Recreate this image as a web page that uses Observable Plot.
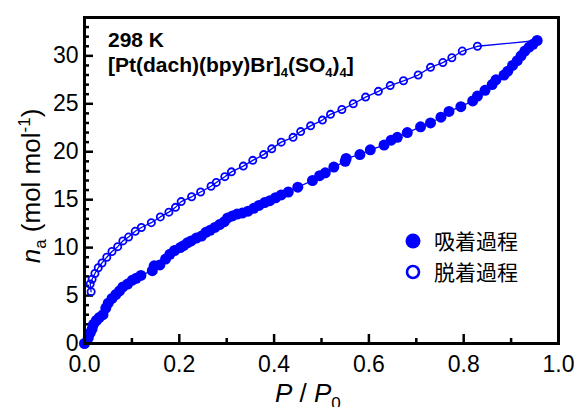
<!DOCTYPE html>
<html><head><meta charset="utf-8">
<script src="https://cdn.jsdelivr.net/npm/d3@7"></script>
<script src="https://cdn.jsdelivr.net/npm/@observablehq/plot@0.6"></script>
<style>body{margin:0;background:#fff}</style>
</head><body><div id="chart"></div>
<script>
// Adsorption (filled) — P/P0 and n_a
const adsX = [0.0,0.008,0.012,0.016,0.019,0.025,0.031,0.039,0.045,0.050,0.058,0.066,0.074,0.081,0.091,0.101,0.109,0.119,0.143,0.147,0.159,0.171,0.180,0.190,0.202,0.209,0.217,0.225,0.236,0.247,0.256,0.265,0.275,0.285,0.295,0.302,0.312,0.322,0.333,0.345,0.357,0.368,0.380,0.391,0.403,0.415,0.430,0.450,0.481,0.496,0.508,0.526,0.550,0.552,0.581,0.603,0.632,0.647,0.660,0.681,0.709,0.730,0.752,0.769,0.794,0.819,0.829,0.845,0.860,0.868,0.885,0.893,0.903,0.913,0.921,0.929,0.938,0.946,0.955];
const adsY = [0.0,0.6,1.1,1.5,2.0,2.4,2.7,3.0,3.7,4.2,4.7,5.1,5.5,5.9,6.2,6.6,6.8,7.1,7.6,8.1,8.2,8.8,9.3,9.7,10.0,10.2,10.5,10.7,11.0,11.2,11.6,11.8,12.1,12.4,12.7,13.1,13.3,13.5,13.6,13.8,14.1,14.4,14.7,14.9,15.2,15.5,15.8,16.3,17.0,17.5,17.8,18.4,19.0,19.3,19.7,20.2,20.7,21.2,21.5,22.0,22.6,23.0,23.6,24.2,24.7,25.3,25.8,26.4,27.0,27.5,28.0,28.4,29.0,29.5,30.0,30.5,30.9,31.2,31.6];
// Desorption (open)
const desX = [0.955,0.829,0.797,0.775,0.756,0.730,0.704,0.673,0.645,0.620,0.593,0.567,0.543,0.519,0.502,0.477,0.456,0.440,0.415,0.395,0.378,0.355,0.335,0.310,0.296,0.278,0.267,0.245,0.226,0.204,0.192,0.178,0.160,0.141,0.120,0.107,0.093,0.081,0.070,0.058,0.047,0.037,0.029,0.022,0.016,0.012,0.014];
const desY = [31.6,31.0,30.5,29.8,29.3,28.8,28.0,27.4,26.9,26.3,25.7,25.0,24.4,23.9,23.3,22.7,22.1,21.5,21.0,20.3,19.7,19.1,18.5,17.9,17.4,16.8,16.4,15.8,15.3,14.8,14.2,13.7,13.2,12.6,12.1,11.7,11.1,10.7,10.1,9.6,9.0,8.4,7.9,7.3,6.7,6.2,5.4];

const xTicks = [0, 0.2, 0.4, 0.6, 0.8, 1.0];
const yTicks = [0, 5, 10, 15, 20, 25, 30];
const xMinor = [0.1, 0.3, 0.5, 0.7, 0.9];
const yMinor = d3.range(1, 34).filter(v => v % 5 !== 0);
const legendLabels = ["吸着過程", "脱着過程"];

const ads = adsX.map((x, i) => ({x, y: adsY[i]}));
const des = desX.map((x, i) => ({x, y: desY[i]}));

const W = 574, H = 407, ML = 84, MR = 16, MT = 17, MB = 64;
const PW = W - ML - MR, PH = H - MT - MB;
const blue = "#0000ff";

const plot = Plot.plot({
  width: W, height: H,
  marginLeft: ML, marginRight: MR, marginTop: MT, marginBottom: MB,
  style: {fontFamily: "'Liberation Sans', Arial, sans-serif", color: "#000", background: "#fff"},
  x: {domain: [0, 1]},
  y: {domain: [0, 34]},
  marks: [
    Plot.axisX({ticks: xTicks, tickFormat: d3.format(".1f"), tickSize: 0, tickPadding: 12, fontSize: 23, label: null}),
    Plot.axisY({ticks: yTicks, tickFormat: d3.format("d"), tickSize: 0, tickPadding: 6, fontSize: 23, label: null}),
    Plot.tickX(xTicks.slice(1, -1), {x: d => d, insetTop: PH - 9, stroke: "#000", strokeWidth: 2.5}),
    Plot.tickX(xMinor, {x: d => d, insetTop: PH - 5, stroke: "#000", strokeWidth: 2.5}),
    Plot.tickY(yTicks.slice(1), {y: d => d, insetRight: PW - 9, stroke: "#000", strokeWidth: 2.5}),
    Plot.tickY(yMinor, {y: d => d, insetRight: PW - 5, stroke: "#000", strokeWidth: 2.5}),
    Plot.line(ads, {x: "x", y: "y", stroke: blue, strokeWidth: 1.3}),
    Plot.dot(ads, {x: "x", y: "y", r: 5.5, fill: blue, stroke: "none"}),
    Plot.line(des, {x: "x", y: "y", stroke: blue, strokeWidth: 1.3}),
    Plot.dot(des, {x: "x", y: "y", r: 3.6, fill: "none", stroke: blue, strokeWidth: 1.8}),
    Plot.frame({stroke: "#000", strokeWidth: 3})
  ]
});
document.getElementById("chart").appendChild(plot);

const svg = d3.select(plot);
const g = svg.append("g").attr("font-family", "'Liberation Sans', Arial, sans-serif").attr("fill", "#000").attr("text-anchor", "start");

function rich(sel, parts) {
  parts.forEach(p => {
    const t = sel.append("tspan").text(p.t);
    if (p.italic) t.attr("font-style", "italic");
    if (p.size) t.attr("font-size", p.size);
    if (p.dy) t.attr("dy", p.dy);
  });
}

// Title
g.append("text").attr("x", 108).attr("y", 47).attr("text-anchor", "start").attr("font-size", 21).attr("font-weight", "bold").text("298 K");
const t2 = g.append("text").attr("x", 108).attr("y", 72).attr("text-anchor", "start").attr("font-size", 21).attr("font-weight", "bold");
rich(t2, [
  {t: "[Pt(dach)(bpy)Br]"}, {t: "4", size: 13, dy: 5}, {t: "(SO", dy: -5}, {t: "4", size: 13, dy: 5},
  {t: ")", dy: -5}, {t: "4", size: 13, dy: 5}, {t: "]", dy: -5}
]);

// X label
const xl = g.append("text").attr("x", 275).attr("y", 402).attr("text-anchor", "start").attr("font-size", 26);
rich(xl, [{t: "P", italic: true}, {t: " / "}, {t: "P", italic: true}, {t: "0", size: 17, dy: 7}]);

// Y label
const yl = g.append("text").attr("transform", "translate(40,186) rotate(-90)").attr("text-anchor", "middle").attr("font-size", 26);
rich(yl, [{t: "n", italic: true}, {t: "a", size: 17, dy: 6}, {t: " (mol mol", dy: -6}, {t: "-1", size: 17, dy: -10}, {t: ")", dy: 10}]);

// Legend
const lg = g.append("g");
lg.append("circle").attr("cx", 413).attr("cy", 241).attr("r", 7.5).attr("fill", blue);
lg.append("circle").attr("cx", 413).attr("cy", 272).attr("r", 6).attr("fill", "#fff").attr("stroke", blue).attr("stroke-width", 2.6);
legendLabels.forEach((s, i) => {
  lg.append("text").attr("x", 434).attr("y", 241 + i * 31).attr("dy", "0.36em").attr("text-anchor", "start")
    .attr("font-family", "'Noto Sans CJK JP', sans-serif").attr("font-size", 21).text(s);
});
</script></body></html>
